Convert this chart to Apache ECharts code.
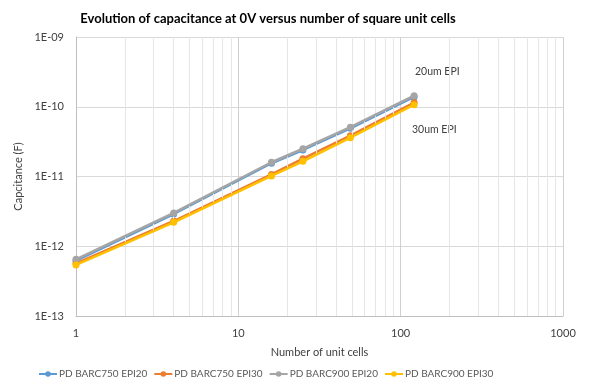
<!DOCTYPE html>
<html>
<head>
<meta charset="utf-8">
<script src="https://cdn.jsdelivr.net/npm/echarts@6/dist/echarts.min.js"></script>
<style>
  html, body { margin: 0; padding: 0; background: #ffffff; }
  #chart { width: 590px; height: 387px; }
</style>
</head>
<body>
<div id="chart"></div>
<script>
// Number of unit cells (square arrays: 1x1, 2x2, 4x4, 5x5, 7x7, 11x11)
const cells = [1, 4, 16, 25, 49, 121];

// Capacitance at 0V (F)
const barc750Epi20 = [6.2e-13, 2.9e-12, 1.55e-11, 2.4e-11, 4.9e-11, 1.38e-10];
const barc750Epi30 = [5.7e-13, 2.3e-12, 1.07e-11, 1.8e-11, 3.85e-11, 1.15e-10];
const barc900Epi20 = [6.5e-13, 3.0e-12, 1.6e-11, 2.5e-11, 5.1e-11, 1.44e-10];
const barc900Epi30 = [5.4e-13, 2.2e-12, 1.02e-11, 1.65e-11, 3.6e-11, 1.07e-10];

const seriesNames = ['PD BARC750 EPI20', 'PD BARC750 EPI30', 'PD BARC900 EPI20', 'PD BARC900 EPI30'];
const seriesValues = [barc750Epi20, barc750Epi30, barc900Epi20, barc900Epi30];
const seriesColors = ['#5B9BD5', '#ED7D31', '#A5A5A5', '#FFC000'];

// Minor grid positions inside each decade
const xMinor = [];
for (const d of [1, 10, 100]) for (let k = 2; k <= 9; k++) xMinor.push(k * d);
const yMinor = [];
for (const d of [1e-13, 1e-12, 1e-11, 1e-10]) for (let k = 2; k <= 9; k++) yMinor.push(k * d);

const FONT = 'Lato, "Open Sans", sans-serif';

const chart = echarts.init(document.getElementById('chart'), null, { renderer: 'canvas' });

const series = seriesNames.map((name, i) => ({
  name: name,
  type: 'line',
  data: cells.map((c, j) => [c, seriesValues[i][j]]),
  symbol: 'circle',
  symbolSize: 7,
  lineStyle: { width: 2.5, color: seriesColors[i] },
  itemStyle: { color: seriesColors[i] },
  z: 3 + i
}));

// Minor grid lines drawn through the axis scales
series.push({
  name: 'grid-minor',
  type: 'line',
  data: [],
  silent: true,
  z: 1,
  markLine: {
    silent: true,
    symbol: ['none', 'none'],
    label: { show: false },
    lineStyle: { type: 'solid', color: '#e6e6e6', width: 1 },
    animation: false,
    data: xMinor.map(v => ({ xAxis: v })).concat(yMinor.map(v => ({ yAxis: v })))
  }
});

chart.setOption({
  animation: false,
  backgroundColor: '#ffffff',
  textStyle: { fontFamily: FONT },
  title: {
    text: 'Evolution of capacitance at 0V versus number of square unit cells',
    left: 263,
    top: 7,
    textAlign: 'center',
    textStyle: { fontFamily: FONT, fontSize: 13, fontWeight: 'bold', color: '#000000' }
  },
  legend: {
    data: seriesNames,
    bottom: 3,
    left: 33,
    itemWidth: 18,
    itemHeight: 7,
    itemGap: 6,
    textStyle: { fontFamily: FONT, fontSize: 10, color: '#595959', padding: [0, 0, 0, -3] }
  },
  grid: { left: 76, right: 27, top: 37, bottom: 71, containLabel: false },
  xAxis: {
    type: 'log',
    logBase: 10,
    min: 1,
    max: 1000,
    name: 'Number of unit cells',
    nameLocation: 'middle',
    nameGap: 31,
    nameTextStyle: { fontFamily: FONT, fontSize: 11, color: '#404040' },
    axisLine: { show: true, lineStyle: { color: '#bfbfbf', width: 1 } },
    axisTick: { show: false },
    axisLabel: {
      fontFamily: FONT, fontSize: 11, color: '#404040', margin: 12,
      formatter: v => String(Math.round(v))
    },
    splitLine: { show: true, lineStyle: { color: '#d0d0d0', width: 1 } }
  },
  yAxis: {
    type: 'log',
    logBase: 10,
    min: 1e-13,
    max: 1e-9,
    name: 'Capcitance (F)',
    nameLocation: 'middle',
    nameGap: 46,
    nameRotate: 90,
    nameTextStyle: { fontFamily: FONT, fontSize: 11, color: '#404040' },
    axisLine: { show: true, lineStyle: { color: '#bfbfbf', width: 1 } },
    axisTick: { show: false },
    axisLabel: {
      fontFamily: FONT, fontSize: 11, color: '#404040', margin: 12,
      formatter: v => {
        const e = Math.round(Math.log10(v));
        const a = Math.abs(e);
        return '1E' + (e < 0 ? '-' : '+') + (a < 10 ? '0' + a : String(a));
      }
    },
    splitLine: { show: true, lineStyle: { color: '#d9d9d9', width: 1 } }
  },
  graphic: [
    { type: 'text', left: 415, top: 66, style: { text: '20um EPI', fontFamily: FONT, fontSize: 10.5, fill: '#404040' } },
    { type: 'text', left: 412, top: 124, style: { text: '30um EPI', fontFamily: FONT, fontSize: 10.5, fill: '#404040' } }
  ],
  series: series
});
</script>
</body>
</html>
